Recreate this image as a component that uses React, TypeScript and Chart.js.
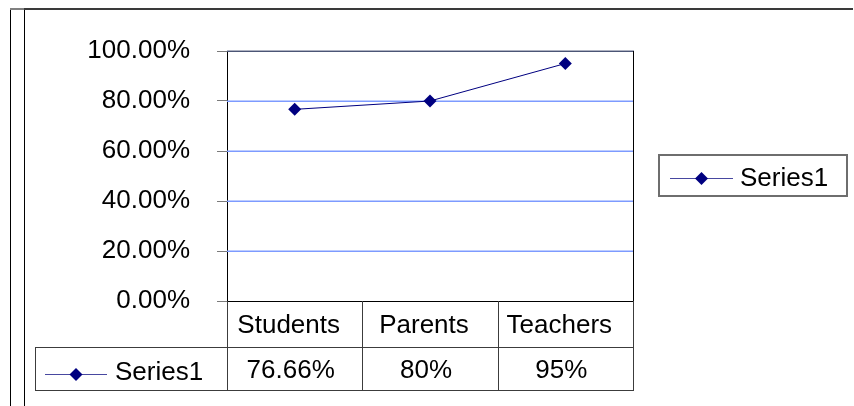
import React, { useEffect, useRef } from "react";
import { Chart, registerables } from "chart.js";

Chart.register(...registerables);

const categories = ["Students", "Parents", "Teachers"];
const seriesName = "Series1";
const values = [76.66, 80, 95];
const yTickValues = [0, 20, 40, 60, 80, 100];

const FONT = "Arial, 'Liberation Sans', Helvetica, sans-serif";
const FONT_SIZE = 26;
const NAVY = "#000080";
const GRID_BLUE = "#7d9bff";
const GRID_BLUE_SOFT = "rgba(125,155,255,0.5)";

function drawDiamond(ctx: CanvasRenderingContext2D, x: number, y: number, r: number) {
  ctx.beginPath();
  ctx.moveTo(x, y - r);
  ctx.lineTo(x + r, y);
  ctx.lineTo(x, y + r);
  ctx.lineTo(x - r, y);
  ctx.closePath();
  ctx.fillStyle = NAVY;
  ctx.fill();
}

function drawKey(ctx: CanvasRenderingContext2D, x0: number, x1: number, y: number) {
  ctx.strokeStyle = "#4848a0";
  ctx.lineWidth = 1;
  ctx.beginPath();
  ctx.moveTo(x0, y + 0.5);
  ctx.lineTo(x1, y + 0.5);
  ctx.stroke();
  drawDiamond(ctx, (x0 + x1) / 2, y + 0.5, 6.5);
}

// Outer frame, gridlines, plot border, data table and the side legend
const tablePlugin = {
  id: "dataTable",
  beforeDraw(chart: any) {
    const ctx: CanvasRenderingContext2D = chart.ctx;
    ctx.save();
    ctx.fillStyle = "#ffffff";
    ctx.fillRect(0, 0, chart.width, chart.height);
    ctx.fillStyle = "#808080";
    ctx.fillRect(10, 8, 14, 2);
    ctx.fillStyle = "#3a3a3a";
    ctx.fillRect(24, 8, 829, 2);
    ctx.fillStyle = "#000000";
    ctx.fillRect(10, 10, 1, chart.height - 10);
    ctx.fillRect(24, 10, 1, chart.height - 10);
    ctx.restore();
  },
  beforeDatasetsDraw(chart: any) {
    const ctx: CanvasRenderingContext2D = chart.ctx;
    const a = chart.chartArea;
    const ys = chart.scales.y;
    const left = Math.round(a.left);
    const w = Math.round(a.right - a.left) + 1;
    const top = Math.round(ys.getPixelForValue(yTickValues[yTickValues.length - 1]));
    const base = Math.round(ys.getPixelForValue(yTickValues[0]));
    ctx.save();
    // horizontal gridlines between the baseline and the top edge
    yTickValues.slice(1, -1).forEach((v) => {
      const y = Math.round(ys.getPixelForValue(v));
      ctx.fillStyle = GRID_BLUE_SOFT;
      ctx.fillRect(left, y - 1, w, 1);
      ctx.fillStyle = GRID_BLUE;
      ctx.fillRect(left, y, w, 1);
    });
    // plot frame: slate top edge, black baseline and right edge
    ctx.fillStyle = "#4b5576";
    ctx.fillRect(left, top, w, 1);
    ctx.fillStyle = "rgba(75,85,118,0.45)";
    ctx.fillRect(left, top - 1, w, 1);
    ctx.fillStyle = "#000000";
    ctx.fillRect(left, base, w, 1);
    ctx.fillRect(Math.round(a.right), top, 1, base - top);
    ctx.restore();
  },
  afterDraw(chart: any) {
    const ctx: CanvasRenderingContext2D = chart.ctx;
    const a = chart.chartArea;
    const xs = chart.scales.x;
    const n = categories.length;
    const colW = (a.right - a.left) / n;
    const headerBottom = Math.round(a.bottom) + 46;
    const rowBottom = headerBottom + 43;
    const keyLeft = 35;
    const textShift = -6;

    ctx.save();
    // table grid
    ctx.fillStyle = "#3c3c3c";
    ctx.fillRect(Math.round(a.left), Math.round(a.bottom), 1, rowBottom - a.bottom);
    for (let i = 1; i <= n; i++) {
      const xx = Math.round(a.left + i * colW);
      ctx.fillRect(xx, Math.round(a.bottom), 1, rowBottom - a.bottom);
    }
    ctx.fillRect(keyLeft, headerBottom, Math.round(a.right) - keyLeft + 1, 1);
    ctx.fillRect(keyLeft, rowBottom, Math.round(a.right) - keyLeft + 1, 1);
    ctx.fillRect(keyLeft, headerBottom, 1, rowBottom - headerBottom);

    // table text
    ctx.fillStyle = "#000000";
    ctx.font = `${FONT_SIZE}px ${FONT}`;
    ctx.textAlign = "center";
    ctx.textBaseline = "alphabetic";
    const headerBase = (a.bottom + headerBottom) / 2 + 9;
    const rowBase = (headerBottom + rowBottom) / 2 + 9;
    categories.forEach((c, i) => {
      const cx = xs.getPixelForValue(i) + textShift;
      ctx.fillText(c, cx, headerBase);
      ctx.fillText(`${values[i]}%`, cx + 2, rowBase);
    });

    // series key inside the table
    drawKey(ctx, 45, 107, 374);
    ctx.textAlign = "left";
    ctx.fillStyle = "#000000";
    ctx.fillText(seriesName, 115, rowBase + 2);

    // side legend
    ctx.strokeStyle = "#6e6e6e";
    ctx.lineWidth = 2;
    ctx.strokeRect(659, 155, 188, 41);
    drawKey(ctx, 670, 733, 178);
    ctx.fillStyle = "#000000";
    ctx.fillText(seriesName, 740, 186);
    ctx.restore();
  },
};

export default function App() {
  const canvasRef = useRef<HTMLCanvasElement | null>(null);

  useEffect(() => {
    document.body.style.margin = "0";
    const canvas = canvasRef.current;
    if (!canvas) return;
    const chart = new Chart(canvas, {
      type: "line",
      data: {
        labels: categories,
        datasets: [
          {
            label: seriesName,
            data: values,
            borderColor: NAVY,
            backgroundColor: NAVY,
            borderWidth: 1,
            pointStyle: "rectRot",
            pointRadius: 6.5,
            pointHoverRadius: 6.5,
            pointBorderWidth: 0,
            pointBackgroundColor: NAVY,
            tension: 0,
            fill: false,
          },
        ],
      },
      options: {
        responsive: false,
        animation: false,
        devicePixelRatio: 1,
        events: [],
        layout: { padding: { top: 51, right: 221, bottom: 0, left: 0 } },
        plugins: { legend: { display: false }, tooltip: { enabled: false } },
        scales: {
          x: {
            type: "category",
            offset: true,
            grid: { display: false },
            ticks: { display: false },
            border: { display: false },
            afterFit: (s: any) => {
              s.height = 105;
            },
          },
          y: {
            min: 0,
            max: 100,
            afterBuildTicks: (s: any) => {
              s.ticks = yTickValues.map((v) => ({ value: v }));
            },
            ticks: {
              callback: (v: any) => Number(v).toFixed(2) + "%",
              color: "#000000",
              font: { family: FONT, size: FONT_SIZE },
              padding: 27,
            },
            grid: {
              drawOnChartArea: false,
              tickColor: "#7a7a7a",
              tickLength: 10,
              lineWidth: 1,
            },
            border: { display: true, color: "#000000", width: 1 },
            afterFit: (s: any) => {
              s.width = 227;
            },
          },
        },
      },
      plugins: [tablePlugin],
    });
    return () => chart.destroy();
  }, []);

  return (
    <div style={{ width: 854, height: 406 }}>
      <canvas ref={canvasRef} width={854} height={406} />
    </div>
  );
}
